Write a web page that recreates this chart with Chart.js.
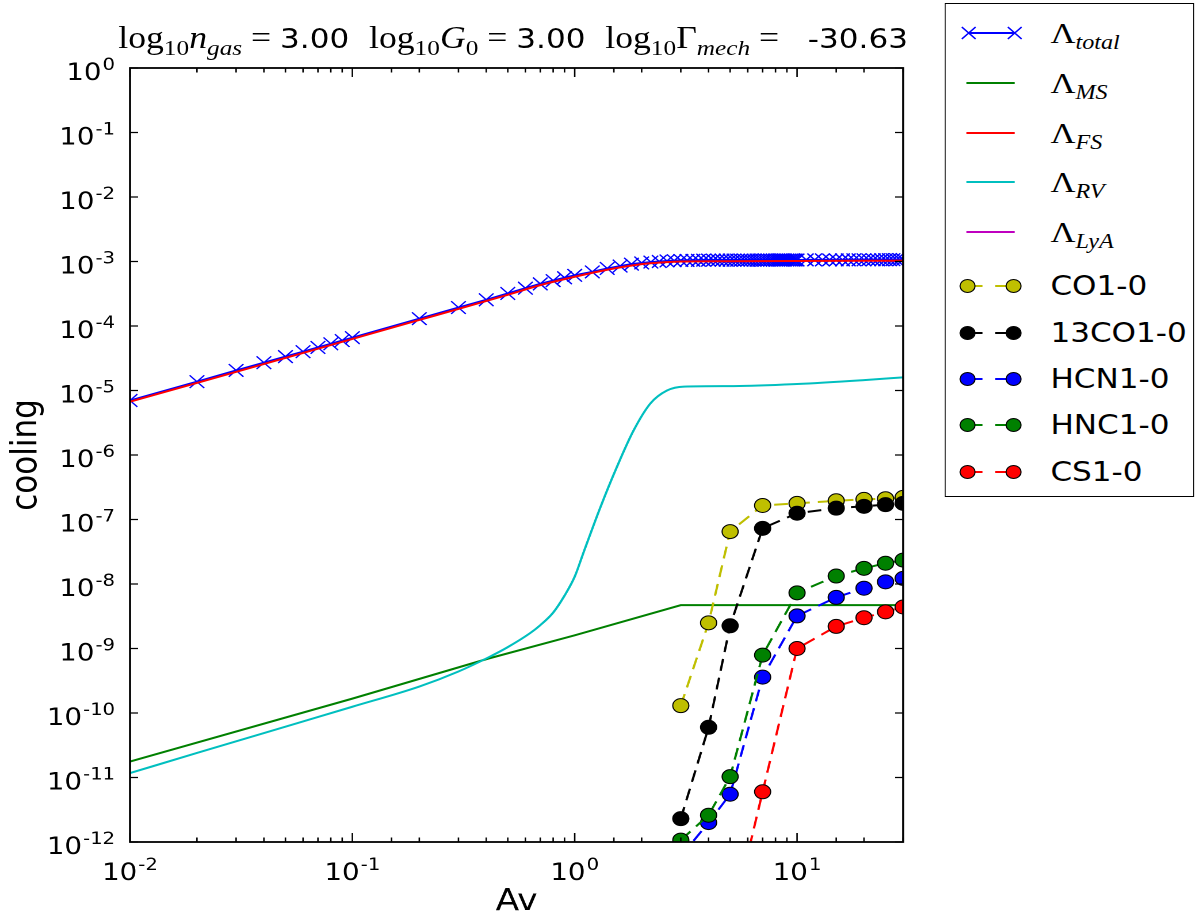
<!DOCTYPE html>
<html>
<head>
<meta charset="utf-8">
<script src="https://cdn.jsdelivr.net/npm/chart.js@4.4.0/dist/chart.umd.min.js"></script>
<style>
  html, body { margin: 0; padding: 0; background: #fff; width: 1200px; height: 920px; overflow: hidden; }
  /* the reference is stretched sideways, so the whole figure is drawn narrow and widened */
  #stage { position: absolute; left: 0; top: 0; width: 1043px; height: 920px;
           transform: scaleX(1.1505); transform-origin: 0 0; }
  #plot { position: absolute; left: 0; top: 0; width: 1043px; height: 920px; }
  #title { position: absolute; left: 446px; top: 18px; transform: translateX(-50%);
           white-space: nowrap; font-family: "DejaVu Sans"; font-size: 27px; line-height: 40px; color: #000; }
  .m { font-family: "Liberation Serif", "DejaVu Serif", serif; font-size: 31px; }
  .i { font-style: italic; }
  .s { font-size: 22px; position: relative; top: 7px; }
  #legend { position: absolute; left: 821px; top: 3px; width: 217px; height: 494px; box-sizing: border-box;
            border: 1.5px solid #000; background: #fff; }
  .row { position: absolute; left: 0; width: 100%; height: 40px; }
  .row svg { position: absolute; left: 6px; top: 5px; overflow: visible; }
  .lab { position: absolute; left: 91px; top: 0; height: 40px; line-height: 40px; white-space: nowrap; color: #000; }
  .lab.txt { font-family: "DejaVu Sans"; font-size: 27px; }
  .lab.math { font-family: "Liberation Serif", "DejaVu Serif", serif; font-size: 30px; }
  .lab.math .s { font-size: 21px; top: 6px; }
</style>
</head>
<body>
<div id="stage">
  <div id="plot"><canvas id="cooling-chart"></canvas></div>
  <div id="title"><span class="m">log</span><span class="m s">10</span><span class="m i">n</span><span class="m s i">gas</span><span class="m"> = </span> 3.00&nbsp;&nbsp;<span class="m">log</span><span class="m s">10</span><span class="m i">G</span><span class="m s">0</span><span class="m"> = </span> 3.00&nbsp;&nbsp;<span class="m">log</span><span class="m s">10</span><span class="m">Γ</span><span class="m s i">mech</span><span class="m"> = </span>&nbsp; -30.63</div>
  <div id="legend"></div>
</div>

<script>
// Av grid of the total cooling run
const avGrid = [0.01, 0.02, 0.03, 0.04, 0.05, 0.06, 0.07, 0.08, 0.09, 0.1,
  0.2, 0.3, 0.4, 0.5, 0.6, 0.7, 0.8, 0.9, 1.0,
  1.2, 1.4, 1.6, 1.8, 2.0, 2.2, 2.4, 2.6, 2.8, 3.0, 3.2, 3.4, 3.6, 3.8, 4.0,
  4.2, 4.4, 4.6, 4.8, 5.0, 5.2, 5.4, 5.6, 5.8, 6.0, 6.2, 6.4, 6.6, 6.8, 7.0,
  7.2, 7.4, 7.6, 7.8, 8.0, 8.2, 8.4, 8.6, 8.8, 9.0, 9.2, 9.4, 9.6, 9.8, 10,
  11, 12, 13, 14, 15, 16, 17, 18, 19, 20, 21, 22, 23, 24, 25, 26, 27, 28, 29, 30];
const totalCooling = [7.0e-6, 1.37e-5, 2.05e-5, 2.7e-5, 3.35e-5, 4.0e-5, 4.65e-5, 5.3e-5, 5.95e-5, 6.6e-5,
  1.3e-4, 1.93e-4, 2.55e-4, 3.2e-4, 3.85e-4, 4.5e-4, 5.05e-4, 5.6e-4, 6.1e-4,
  6.9e-4, 7.8e-4, 8.5e-4, 9.1e-4, 9.5e-4, 9.8e-4, 1.0e-3, 1.02e-3, 1.03e-3, 1.04e-3, 1.04e-3, 1.045e-3, 1.045e-3, 1.05e-3, 1.05e-3,
  1.05e-3, 1.05e-3, 1.05e-3, 1.05e-3, 1.05e-3, 1.05e-3, 1.05e-3, 1.05e-3, 1.05e-3, 1.05e-3, 1.05e-3, 1.05e-3, 1.05e-3, 1.05e-3, 1.05e-3,
  1.055e-3, 1.055e-3, 1.055e-3, 1.055e-3, 1.055e-3, 1.055e-3, 1.055e-3, 1.055e-3, 1.055e-3, 1.055e-3, 1.055e-3, 1.055e-3, 1.055e-3, 1.055e-3, 1.055e-3,
  1.06e-3, 1.06e-3, 1.06e-3, 1.06e-3, 1.06e-3, 1.06e-3, 1.06e-3, 1.062e-3, 1.062e-3, 1.062e-3, 1.064e-3, 1.064e-3, 1.064e-3, 1.065e-3, 1.066e-3,
  1.066e-3, 1.067e-3, 1.068e-3, 1.069e-3, 1.07e-3];

// fine-structure cooling
const avFS = [0.01, 0.02, 0.05, 0.1, 0.2, 0.3, 0.5, 0.7, 1.0, 1.4, 2.0, 2.6, 3.0, 5, 10, 20, 30];
const fsCooling = [6.7e-6, 1.31e-5, 3.2e-5, 6.3e-5, 1.24e-4, 1.84e-4, 3.05e-4, 4.3e-4, 5.8e-4, 7.45e-4,
  9.1e-4, 9.8e-4, 1.0e-3, 1.01e-3, 1.02e-3, 1.025e-3, 1.03e-3];

// molecular (H2) cooling
const avMS = [0.01, 0.1, 0.41, 1.0, 3.0, 30];
const msCooling = [1.77e-11, 1.67e-10, 7.0e-10, 1.6e-9, 4.7e-9, 4.7e-9];

// rovibrational cooling
const avRV = [0.01, 0.02, 0.056, 0.1, 0.2, 0.3, 0.41, 0.5, 0.63, 0.7, 0.8, 0.9, 1.0, 1.1, 1.3, 1.55, 1.84, 2.19, 2.6, 3.1, 5.2, 10, 20, 30];
const rvCooling = [1.17e-11, 2.4e-11, 6.9e-11, 1.25e-10, 2.57e-10, 4.4e-10, 7.3e-10, 1.05e-9, 1.73e-9, 2.3e-9, 3.6e-9, 6.6e-9,
  1.3e-8, 3.2e-8, 1.5e-7, 6.6e-7, 2.4e-6, 6.3e-6, 1.0e-5, 1.15e-5, 1.17e-5, 1.26e-5, 1.45e-5, 1.6e-5];

// Lyman alpha cooling: nothing inside the plotted range
const avLyA = [];
const lyaCooling = [];

// line cooling of single transitions
const avLines = [3, 4, 5, 7, 10, 15, 20, 25, 30];
const co10   = [1.3e-10, 2.5e-9, 6.5e-8, 1.65e-7, 1.78e-7, 1.95e-7, 2.05e-7, 2.1e-7, 2.2e-7];
const co13   = [2.3e-12, 6.0e-11, 2.25e-9, 7.3e-8, 1.25e-7, 1.5e-7, 1.6e-7, 1.7e-7, 1.78e-7];
const hcn10  = [6.0e-13, 2.0e-12, 5.5e-12, 3.6e-10, 3.2e-9, 6.2e-9, 8.6e-9, 1.08e-8, 1.22e-8];
const hnc10  = [1.07e-12, 2.6e-12, 1.03e-11, 7.9e-10, 7.3e-9, 1.33e-8, 1.75e-8, 2.1e-8, 2.35e-8];
const cs10   = [1.0e-17, 1.0e-15, 4.6e-14, 6.0e-12, 1.0e-9, 2.2e-9, 3.0e-9, 3.7e-9, 4.4e-9];

const xMajorTicks = [0.01, 0.1, 1, 10];
const yMajorTicks = [1e-12, 1e-11, 1e-10, 1e-9, 1e-8, 1e-7, 1e-6, 1e-5, 1e-4, 1e-3, 1e-2, 1e-1, 1];

function isDecade(v) {
  const e = Math.log10(v);
  return Math.abs(e - Math.round(e)) < 1e-6;
}

function pts(xs, ys) {
  return xs.map((x, i) => ({ x: x, y: ys[i] }));
}

const FONT = 'DejaVu Sans';

const series = [
  { label: 'total', html: '\u039B<span class="s i">total</span>', kind: 'cross', color: '#0000ff', data: pts(avGrid, totalCooling) },
  { label: 'MS', html: '\u039B<span class="s i">MS</span>', kind: 'line', color: '#008000', data: pts(avMS, msCooling) },
  { label: 'FS', html: '\u039B<span class="s i">FS</span>', kind: 'line', color: '#ff0000', data: pts(avFS, fsCooling), smooth: true },
  { label: 'RV', html: '\u039B<span class="s i">RV</span>', kind: 'line', color: '#00bfbf', data: pts(avRV, rvCooling), smooth: true },
  { label: 'LyA', html: '\u039B<span class="s i">LyA</span>', kind: 'line', color: '#bf00bf', data: pts(avLyA, lyaCooling) },
  { label: 'CO1-0', kind: 'dots', color: '#bfbf00', data: pts(avLines, co10) },
  { label: '13CO1-0', kind: 'dots', color: '#000000', data: pts(avLines, co13) },
  { label: 'HCN1-0', kind: 'dots', color: '#0000ff', data: pts(avLines, hcn10) },
  { label: 'HNC1-0', kind: 'dots', color: '#008000', data: pts(avLines, hnc10) },
  { label: 'CS1-0', kind: 'dots', color: '#ff0000', data: pts(avLines, cs10) }
];

const datasets = series.map((s, i) => {
  const ds = {
    label: s.label,
    data: s.data,
    borderColor: s.color,
    backgroundColor: s.color,
    borderWidth: 2,
    pointRadius: 0,
    order: series.length - i,   // later series on top, as in the original
    tension: 0
  };
  if (s.smooth) ds.cubicInterpolationMode = 'monotone';
  if (s.kind === 'cross') {
    ds.pointStyle = 'crossRot';
    ds.pointRadius = 9;
    ds.pointBorderWidth = 1.3;
    ds.pointBorderColor = s.color;
  }
  if (s.kind === 'dots') {
    ds.borderDash = [12, 7];
    ds.pointStyle = 'circle';
    ds.pointRadius = 7;
    ds.pointBorderWidth = 1;
    ds.pointBorderColor = '#000';
    ds.pointBackgroundColor = s.color;
  }
  return ds;
});

// "10" with a raised exponent, like the mathtext labels
function drawPow(ctx, value, x, y, align) {
  const e = String(Math.round(Math.log10(value)));
  ctx.font = '24px "' + FONT + '"';
  const wBase = ctx.measureText('10').width;
  ctx.font = '17px "' + FONT + '"';
  const wExp = ctx.measureText(e).width;
  const total = wBase + wExp + 1;
  const x0 = align === 'right' ? x - total : x - total / 2;
  ctx.textAlign = 'left';
  ctx.textBaseline = 'alphabetic';
  ctx.font = '24px "' + FONT + '"';
  ctx.fillText('10', x0, y);
  ctx.font = '17px "' + FONT + '"';
  ctx.fillText(e, x0 + wBase + 1, y - 10);
}

// inward ticks, box frame and tick labels, matplotlib style
const mplFrame = {
  id: 'mplFrame',
  afterDraw(chart) {
    const { ctx, chartArea: a, scales: { x, y } } = chart;
    ctx.save();
    ctx.strokeStyle = '#000';
    ctx.lineWidth = 1.3;
    ctx.beginPath();
    x.ticks.forEach(t => {
      const px = x.getPixelForValue(t.value);
      const len = isDecade(t.value) ? 9 : 4.5;
      ctx.moveTo(px, a.bottom); ctx.lineTo(px, a.bottom - len);
      ctx.moveTo(px, a.top); ctx.lineTo(px, a.top + len);
    });
    y.ticks.forEach(t => {
      const py = y.getPixelForValue(t.value);
      ctx.moveTo(a.left, py); ctx.lineTo(a.left + 7, py);
      ctx.moveTo(a.right, py); ctx.lineTo(a.right - 7, py);
    });
    ctx.stroke();
    ctx.lineWidth = 1.8;
    ctx.strokeRect(a.left, a.top, a.right - a.left, a.bottom - a.top);

    ctx.fillStyle = '#000';
    xMajorTicks.forEach(v => drawPow(ctx, v, x.getPixelForValue(v), a.bottom + 38, 'center'));
    yMajorTicks.forEach(v => drawPow(ctx, v, a.left - 13, y.getPixelForValue(v) + 12, 'right'));
    ctx.restore();
  }
};

function initCoolingChart(canvasId) {
  const ctx = document.getElementById(canvasId);
  if (!ctx) return;

  new Chart(ctx, {
    type: 'line',
    data: { datasets: datasets },
    options: {
      responsive: true,
      maintainAspectRatio: false,
      animation: false,
      devicePixelRatio: 2,
      layout: { padding: { left: 0, top: 68, right: 258, bottom: 0 } },
      plugins: {
        legend: { display: false },
        tooltip: { enabled: false },
        title: { display: false }
      },
      scales: {
        x: {
          type: 'logarithmic',
          min: 0.01,
          max: 30,
          afterFit: s => { s.height = 78; },
          grid: { display: false, drawTicks: false },
          border: { display: false },
          ticks: { display: false, autoSkip: false },
          title: {
            display: true,
            text: 'Av',
            color: '#000',
            font: { family: FONT, size: 30 },
            padding: { top: 0, bottom: 0 }
          }
        },
        y: {
          type: 'logarithmic',
          min: 1e-12,
          max: 1,
          afterBuildTicks: s => { s.ticks = yMajorTicks.map(v => ({ value: v, major: true })); },
          afterFit: s => { s.width = 113; },
          grid: { display: false, drawTicks: false },
          border: { display: false },
          ticks: { display: false, autoSkip: false },
          title: {
            display: true,
            text: 'cooling',
            color: '#000',
            font: { family: FONT, size: 31 },
            padding: { top: 5, bottom: 0 }
          }
        }
      }
    },
    plugins: [mplFrame]
  });
}

// legend drawn as html next to the plot
function buildLegend() {
  const box = document.getElementById('legend');
  const rowY = [33, 83, 133, 182, 232, 286, 333, 379, 425, 472];
  series.forEach((s, i) => {
    const row = document.createElement('div');
    row.className = 'row';
    row.style.top = (rowY[i] - 20 - 4.5) + 'px';
    let svg = '<svg width="70" height="30" viewBox="0 0 70 30">';
    if (s.kind === 'cross') {
      svg += '<line x1="14" y1="15" x2="54" y2="15" stroke="' + s.color + '" stroke-width="2"/>';
      [14, 54].forEach(cx => {
        svg += '<path d="M' + (cx - 6) + ' 9 L' + (cx + 6) + ' 21 M' + (cx - 6) + ' 21 L' + (cx + 6) + ' 9" stroke="' + s.color + '" stroke-width="1.4"/>';
      });
    } else if (s.kind === 'line') {
      svg += '<line x1="12" y1="15" x2="54" y2="15" stroke="' + s.color + '" stroke-width="2"/>';
    } else {
      svg += '<line x1="13" y1="15" x2="53" y2="15" stroke="' + s.color + '" stroke-width="2" stroke-dasharray="13 11 20"/>';
      [13, 53].forEach(cx => {
        svg += '<circle cx="' + cx + '" cy="15" r="6.5" fill="' + s.color + '" stroke="#000" stroke-width="1"/>';
      });
    }
    svg += '</svg>';
    const lab = s.html
      ? '<div class="lab math">' + s.html + '</div>'
      : '<div class="lab txt">' + s.label + '</div>';
    row.innerHTML = svg + lab;
    box.appendChild(row);
  });
}

document.addEventListener('DOMContentLoaded', () => {
  buildLegend();
  initCoolingChart('cooling-chart');
});
</script>
</body>
</html>
